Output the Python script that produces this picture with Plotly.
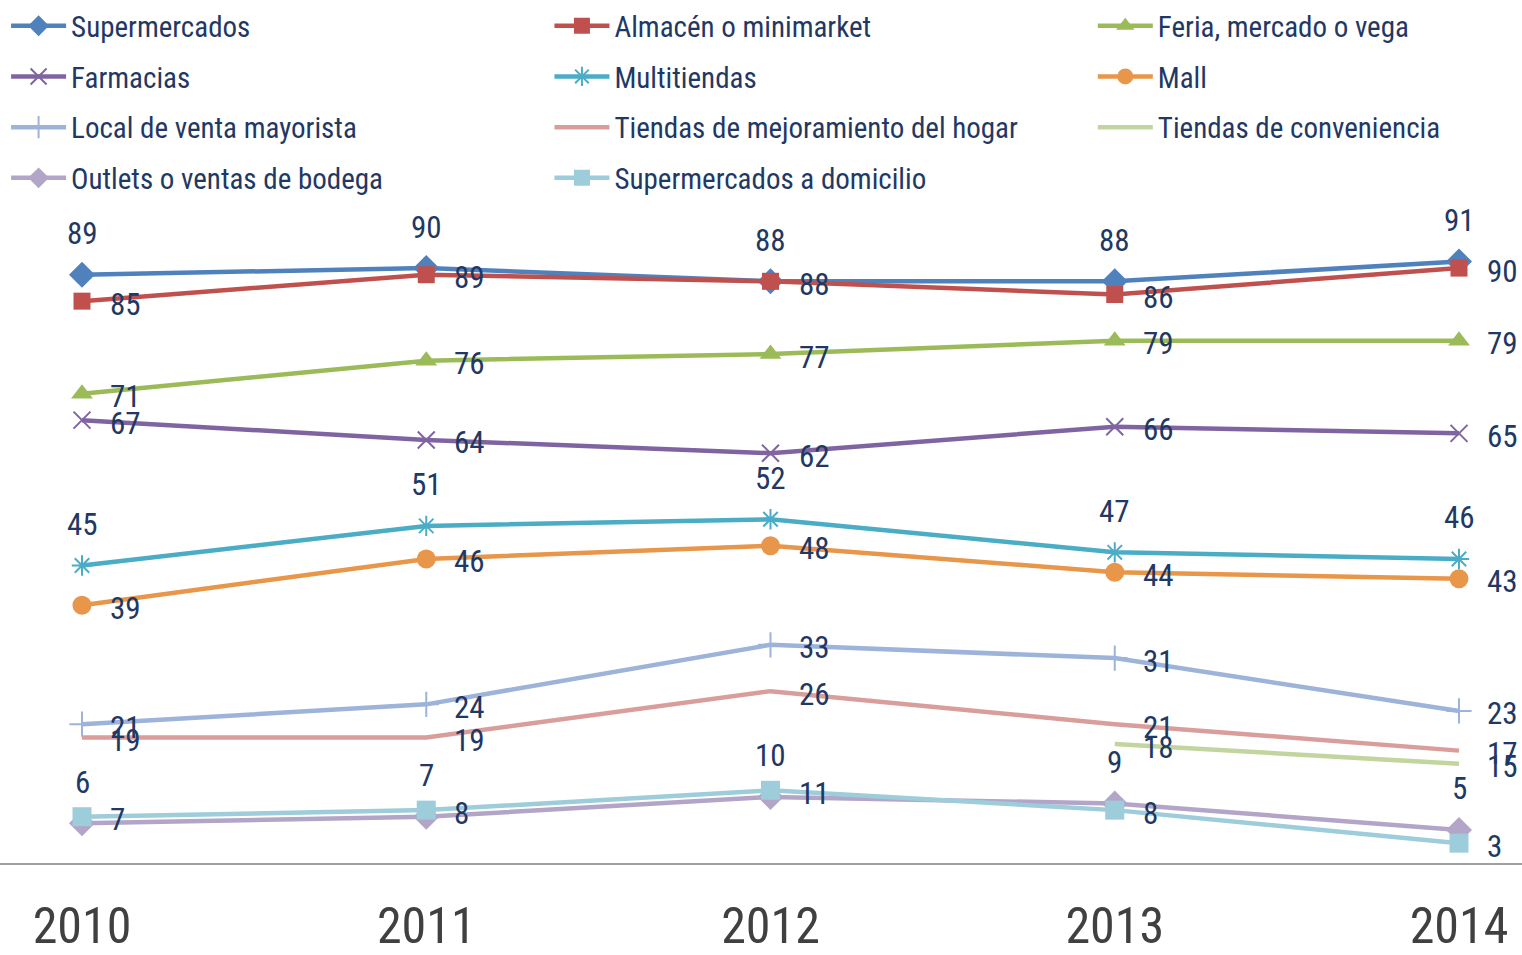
import plotly.graph_objects as go

years = [2010, 2011, 2012, 2013, 2014]
year_labels = ["2010", "2011", "2012", "2013", "2014"]

supermercados = [89, 90, 88, 88, 91]
almacen = [85, 89, 88, 86, 90]
feria = [71, 76, 77, 79, 79]
farmacias = [67, 64, 62, 66, 65]
multitiendas = [45, 51, 52, 47, 46]
mall = [39, 46, 48, 44, 43]
mayorista = [21, 24, 33, 31, 23]
mejoramiento = [19, 19, 26, 21, 17]
conveniencia = [None, None, None, 18, 15]
outlets = [6, 7, 10, 9, 5]
super_domicilio = [7, 8, 11, 8, 3]

FONT = "Liberation Sans Narrow, Arial Narrow, Roboto Condensed, Liberation Sans, sans-serif"
TEXT = "#1F3864"

# name, values, colour, marker symbol, marker size, label side, legend column
series = [
    ("Supermercados", supermercados, "#4F81BD", "diamond", 20, "top", "legend"),
    ("Almacén o minimarket", almacen, "#C0504D", "square", 17, "right", "legend2"),
    ("Feria, mercado o vega", feria, "#9BBB59", "triangle-up", 19, "right", "legend3"),
    ("Farmacias", farmacias, "#8064A2", "x-thin", 17, "right", "legend"),
    ("Multitiendas", multitiendas, "#4BACC6", "asterisk", 17, "top", "legend2"),
    ("Mall", mall, "#E8964A", "circle", 19, "right", "legend3"),
    ("Local de venta mayorista", mayorista, "#9DB3D9", "cross-thin", 18, "right", "legend"),
    ("Tiendas de mejoramiento del hogar", mejoramiento, "#D99E9B", None, 0, "right", "legend2"),
    ("Tiendas de conveniencia", conveniencia, "#C3D59F", None, 0, "right", "legend3"),
    ("Outlets o ventas de bodega", outlets, "#B3A5C8", "diamond", 20, "top", "legend"),
    ("Supermercados a domicilio", super_domicilio, "#9DCCDB", "square", 19, "right", "legend2"),
]

fig = go.Figure()
annotations = []
for name, vals, color, symbol, size, side, leg in series:
    if symbol is None:
        mode = "lines"
        marker = dict()
    else:
        mode = "lines+markers"
        thin = symbol in ("x-thin", "asterisk", "cross-thin")
        marker = dict(symbol=symbol, size=size, color=color,
                      line=dict(color=color, width=2 if thin else 0))
    fig.add_trace(go.Scatter(
        x=years, y=vals, name=name, mode=mode, legend=leg, legendgroup=name,
        line=dict(color=color, width=4.5),
        marker=marker, cliponaxis=False, connectgaps=False,
    ))
    for x, v in zip(years, vals):
        if v is None:
            continue
        if side == "top":
            annotations.append(dict(x=x, y=v, text=str(v), showarrow=False,
                                    xanchor="center", yanchor="middle", yshift=41,
                                    font=dict(family=FONT, size=31, color=TEXT)))
        else:
            annotations.append(dict(x=x, y=v, text=str(v), showarrow=False,
                                    xanchor="left", yanchor="middle", xshift=26, yshift=-3,
                                    font=dict(family=FONT, size=31, color=TEXT)))

legend_style = dict(
    orientation="v", yanchor="top", xanchor="left", y=1.305,
    itemwidth=55, tracegroupgap=10, traceorder="grouped",
    font=dict(family=FONT, size=29, color=TEXT),
    bgcolor="rgba(0,0,0,0)",
)

fig.update_layout(
    width=1522, height=955,
    margin=dict(l=0, r=0, t=197, b=92),
    paper_bgcolor="white", plot_bgcolor="white",
    font=dict(family=FONT, color=TEXT),
    annotations=annotations,
    showlegend=True,
    legend=dict(x=0.004, **legend_style),
    legend2=dict(x=0.361, **legend_style),
    legend3=dict(x=0.718, **legend_style),
    xaxis=dict(
        range=[2010 - 82 / 344.25, 2014 + 63 / 344.25],
        tickmode="array", tickvals=years, ticktext=year_labels,
        showgrid=False, zeroline=False, showline=True,
        linecolor="#A0A0A0", linewidth=2, ticks="",
        ticklabelstandoff=18, automargin=False,
        tickfont=dict(family=FONT, size=50, color="#404040"),
    ),
    yaxis=dict(range=[0, 100], visible=False, showgrid=False, zeroline=False,
               automargin=False),
)

fig.write_html("out.html")
